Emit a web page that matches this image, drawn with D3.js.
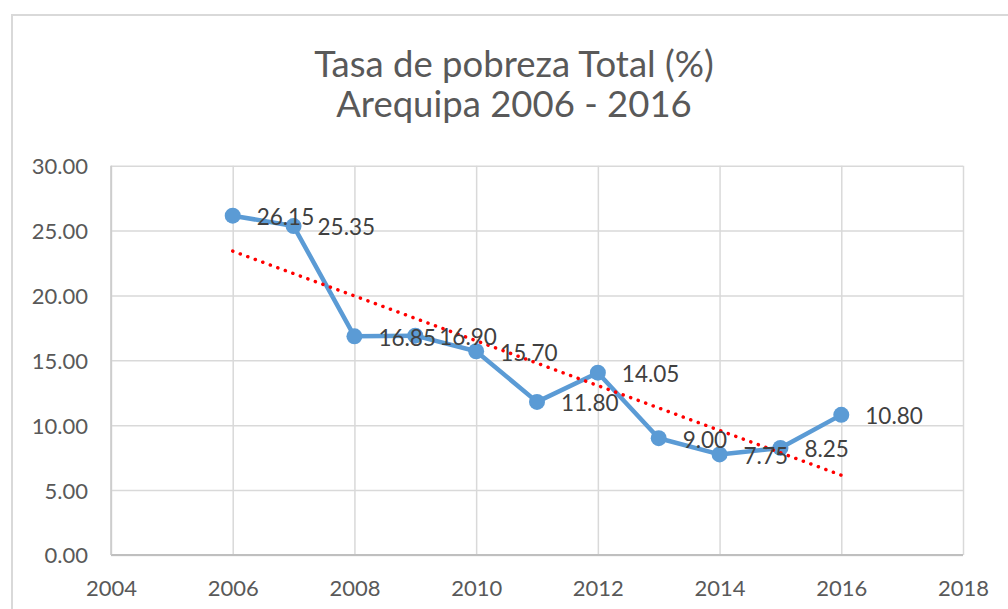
<!DOCTYPE html>
<html>
<head>
<meta charset="utf-8">
<script src="https://cdn.jsdelivr.net/npm/d3@7"></script>
<style>
  body { margin: 0; background: #fff; }
  svg { display: block; }
</style>
</head>
<body>
<div id="chart"></div>
<script>
// data
var years = [2006, 2007, 2008, 2009, 2010, 2011, 2012, 2013, 2014, 2015, 2016];
var pobreza = [26.15, 25.35, 16.85, 16.90, 15.70, 11.80, 14.05, 9.00, 7.75, 8.25, 10.80];
var xTicks = [2004, 2006, 2008, 2010, 2012, 2014, 2016, 2018];
var yTicks = [0, 5, 10, 15, 20, 25, 30];
var titleLines = ['Tasa de pobreza Total (%)', 'Arequipa 2006 - 2016'];

var W = 1008, H = 609;
var margin = {top: 165.7, right: 45, bottom: 54, left: 111},
    width = W - margin.left - margin.right,
    height = H - margin.top - margin.bottom;

var textColor = '#595959';
var font = "Lato, 'Noto Sans', sans-serif";

var svg = d3.select('#chart').append('svg')
    .attr('width', W)
    .attr('height', H);

// chart area border (runs off the right/bottom edge)
svg.append('rect')
    .attr('x', 12).attr('y', 15)
    .attr('width', W + 20).attr('height', H + 20)
    .attr('fill', '#fff')
    .attr('stroke', '#d9d9d9')
    .attr('stroke-width', 2);

// title
svg.append('g').selectAll('text')
    .data(titleLines)
  .enter().append('text')
    .attr('x', 514)
    .attr('y', function(d, i) { return 77 + i * 40; })
    .attr('text-anchor', 'middle')
    .style('font-family', font)
    .style('font-size', '36.5px')
    .style('fill', textColor)
    .text(function(d) { return d; });

var g = svg.append('g')
    .attr('transform', 'translate(' + margin.left + ',' + margin.top + ')');

var xScale = d3.scaleLinear()
    .domain([2004, 2018])
    .range([0, width]);
var yScale = d3.scaleLinear()
    .domain([0, 30])
    .range([height, 0]);

// grid
g.append('g')
    .attr('class', 'x axis-grid')
    .attr('transform', 'translate(0,' + height + ')')
    .call(d3.axisBottom(xScale).tickValues(xTicks).tickSize(-height).tickFormat(''))
    .call(function(s) {
      s.select('.domain').remove();
      s.selectAll('line').attr('stroke', '#d9d9d9').attr('stroke-width', 1.5);
    });
g.append('g')
    .attr('class', 'y axis-grid')
    .call(d3.axisLeft(yScale).tickValues(yTicks).tickSize(-width).tickFormat(''))
    .call(function(s) {
      s.select('.domain').remove();
      s.selectAll('line').attr('stroke', '#d9d9d9').attr('stroke-width', 1.5);
    });

// axis lines
g.append('line')
    .attr('x1', 0).attr('x2', width)
    .attr('y1', yScale(0)).attr('y2', yScale(0))
    .attr('stroke', '#bfbfbf').attr('stroke-width', 2);
g.append('line')
    .attr('x1', xScale(2004)).attr('x2', xScale(2004))
    .attr('y1', 0).attr('y2', height)
    .attr('stroke', '#c8c8c8').attr('stroke-width', 1.5);

// tick labels
var yaxis = d3.axisLeft(yScale)
    .tickValues(yTicks)
    .tickSize(0)
    .tickPadding(23)
    .tickFormat(d3.format('.2f'));
g.append('g')
    .attr('class', 'y axis')
    .call(yaxis)
    .call(function(s) {
      s.select('.domain').remove();
      s.selectAll('text')
        .style('font-family', font)
        .style('font-size', '22px')
        .style('fill', textColor)
        .attr('dy', '0.36em');
    });

var xaxis = d3.axisBottom(xScale)
    .tickValues(xTicks)
    .tickSize(0)
    .tickPadding(25)
    .tickFormat(d3.format('d'));
g.append('g')
    .attr('class', 'x axis')
    .attr('transform', 'translate(0,' + height + ')')
    .call(xaxis)
    .call(function(s) {
      s.select('.domain').remove();
      s.selectAll('text')
        .style('font-family', font)
        .style('font-size', '22px')
        .style('fill', textColor);
    });

var dataset = years.map(function(y, i) { return [y, pobreza[i]]; });

// linear trend (least squares on the series)
var mx = d3.mean(years), my = d3.mean(pobreza);
var sxy = d3.sum(dataset, function(d) { return (d[0] - mx) * (d[1] - my); });
var sxx = d3.sum(years, function(x) { return (x - mx) * (x - mx); });
var slope = sxy / sxx, icpt = my - slope * mx;
var trend = d3.extent(years).map(function(x) { return [x, icpt + slope * x]; });

var line = d3.line()
    .x(function(d) { return xScale(d[0]); })
    .y(function(d) { return yScale(d[1]); });

g.append('path')
    .datum(dataset)
    .attr('class', 'line')
    .attr('d', line)
    .attr('fill', 'none')
    .attr('stroke', '#5b9bd5')
    .attr('stroke-width', 4.5)
    .attr('stroke-linejoin', 'round');

g.selectAll('.dot')
    .data(dataset)
  .enter().append('circle')
    .attr('class', 'dot')
    .attr('cx', function(d) { return xScale(d[0]); })
    .attr('cy', function(d) { return yScale(d[1]); })
    .attr('r', 8)
    .attr('fill', '#5b9bd5');

g.append('path')
    .datum(trend)
    .attr('class', 'trend')
    .attr('d', line)
    .attr('fill', 'none')
    .attr('stroke', '#ff0000')
    .attr('stroke-width', 3.5)
    .attr('stroke-linecap', 'round')
    .attr('stroke-dasharray', '0.1 7.9');

// data labels, to the right of each point
g.selectAll('.label')
    .data(dataset)
  .enter().append('text')
    .attr('class', 'label')
    .attr('x', function(d) { return xScale(d[0]) + 24; })
    .attr('y', function(d) { return yScale(d[1]); })
    .attr('dy', '0.42em')
    .style('font-family', font)
    .style('font-size', '22.5px')
    .style('fill', '#404040')
    .text(function(d) { return d3.format('.2f')(d[1]); });
</script>
</body>
</html>
